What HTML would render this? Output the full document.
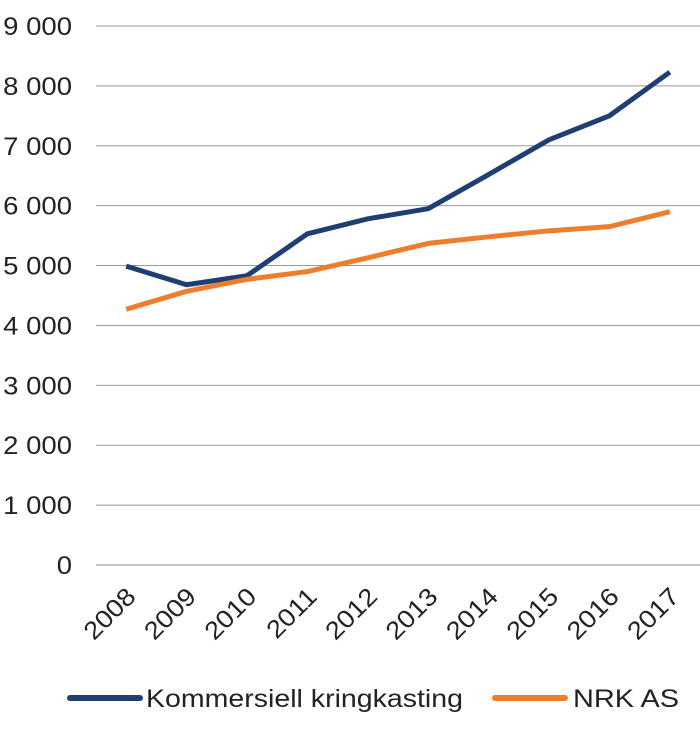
<!DOCTYPE html>
<html><head><meta charset="utf-8"><style>
body{margin:0;background:#fff;font-family:"Liberation Sans",Arial,sans-serif}
svg text{font-family:"Liberation Sans",Arial,sans-serif;fill:#222}
</style></head><body>
<svg width="700" height="726">
<g id="grid"></g>
<g id="yt"></g>
<g id="xt"></g>
<g id="series"></g>
<g>
<line x1="70" y1="698" x2="140" y2="698" stroke="#1f3e74" stroke-width="6" stroke-linecap="round"/>
<text x="146" y="707" font-size="25" textLength="317" lengthAdjust="spacingAndGlyphs">Kommersiell kringkasting</text>
<line x1="495" y1="698" x2="565" y2="698" stroke="#ef7d2e" stroke-width="6" stroke-linecap="round"/>
<text x="573" y="707" font-size="25" textLength="106" lengthAdjust="spacingAndGlyphs">NRK AS</text>
</g>
</svg>
<script>
const categories=["2008","2009","2010","2011","2012","2013","2014","2015","2016","2017"];
const kommersiell=[4990,4680,4830,5530,5780,5950,6520,7100,7500,8230];
const nrk=[4270,4570,4770,4900,5130,5370,5480,5580,5650,5900];
const yTicks=[0,1000,2000,3000,4000,5000,6000,7000,8000,9000];
const yLabels=["0","1 000","2 000","3 000","4 000","5 000","6 000","7 000","8 000","9 000"];
const NS="http://www.w3.org/2000/svg";
const x0=96,x1=700,y0=565,y9=26;
const y=v=>y0-(v/9000)*(y0-y9);
const bw=(x1-x0)/categories.length;
const x=i=>x0+bw*(i+0.5);
function mk(t,a,p){const e=document.createElementNS(NS,t);for(const k in a)e.setAttribute(k,a[k]);p.appendChild(e);return e;}
function widen(t,f){const w=t.getComputedTextLength();t.setAttribute('textLength',w*f);t.setAttribute('lengthAdjust','spacingAndGlyphs');}
const grid=document.getElementById('grid'),yt=document.getElementById('yt'),xt=document.getElementById('xt'),se=document.getElementById('series');
yTicks.forEach((v,i)=>{
 const l=mk('line',{x1:x0,x2:x1,y1:y(v),y2:y(v),stroke:v===0?'#888':'#999','stroke-width':1},grid);
 
 
 const t=mk('text',{x:72,y:y(v)+9,'text-anchor':'end','font-size':25},yt);
 t.textContent=yLabels[i];
 
 
 widen(t,1.1);
});
categories.forEach((c,i)=>{
 const px=x(i)+11,py=598;
 const t=mk('text',{x:px,y:py,'text-anchor':'end','font-size':25,transform:`rotate(-45 ${px} ${py})`},xt);
 t.textContent=c;
 
 
 widen(t,1.1);
});
[[kommersiell,'#1f3e74','kommersiell'],[nrk,'#ef7d2e','nrk']].forEach(([d,col,n])=>{
 const p=mk('polyline',{points:d.map((v,i)=>x(i)+','+y(v)).join(' '),fill:'none',stroke:col,'stroke-width':5,'stroke-linejoin':'round'},se);
 
 
});
</script>
</body></html>
